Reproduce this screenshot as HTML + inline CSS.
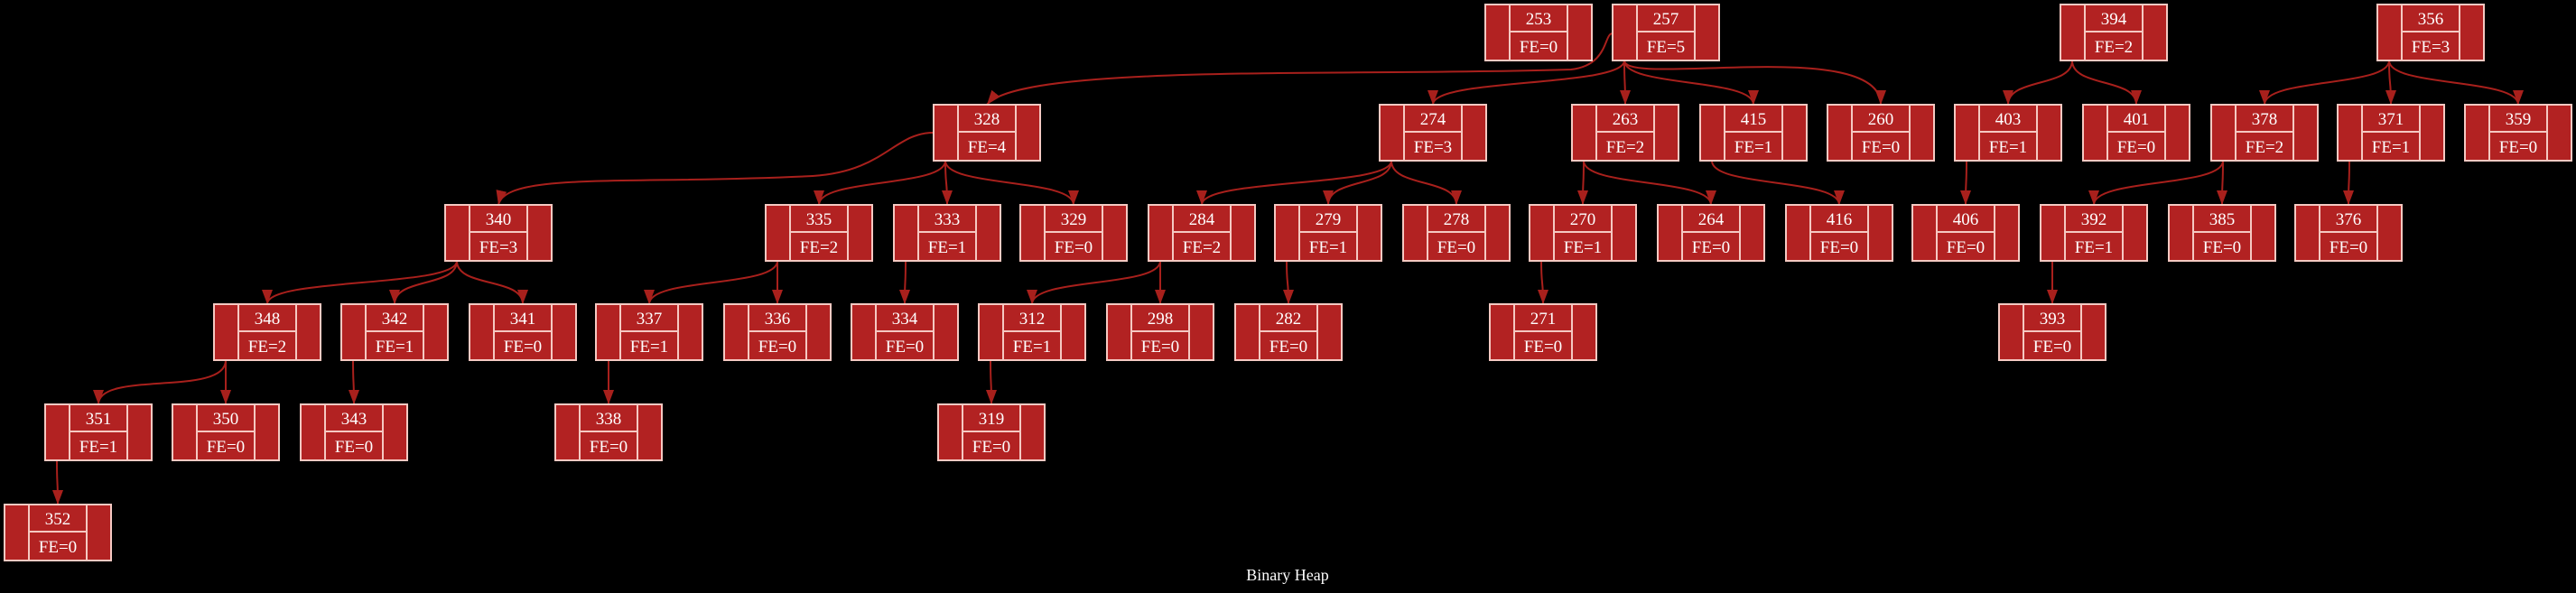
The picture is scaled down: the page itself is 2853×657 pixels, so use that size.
<!DOCTYPE html>
<html><head><meta charset="utf-8"><style>
html,body{margin:0;padding:0;background:#000;}
svg{display:block;}
text{font-family:"Liberation Serif",serif;font-size:19px;fill:#fff;text-anchor:middle;}
.e{fill:none;stroke:#a8201c;stroke-width:2;}
</style></head><body>
<svg width="2853" height="657" viewBox="0 0 2853 657" xmlns="http://www.w3.org/2000/svg" xmlns:xlink="http://www.w3.org/1999/xlink">
<defs>
<marker id="a" markerUnits="userSpaceOnUse" markerWidth="16" markerHeight="12" refX="16" refY="6" orient="auto">
<path d="M0,0 L16,6 L0,12 z" fill="#a8201c"/></marker>
<g id="b"><rect x="0" y="0" width="118" height="62" fill="#b22222" stroke="#f5c9c2" stroke-width="2"/><line x1="27" y1="0" x2="27" y2="62" stroke="#f5c9c2" stroke-width="2"/><line x1="91" y1="0" x2="91" y2="62" stroke="#f5c9c2" stroke-width="2"/><line x1="27" y1="30" x2="91" y2="30" stroke="#f5c9c2" stroke-width="2"/></g>
</defs>
<g>
<path class="e" marker-end="url(#a)" d="M1786,37 C1776,37 1782,72 1740,77 C1500,85 1130,70 1093,116"/>
<path class="e" marker-end="url(#a)" d="M1799,67 C1799,97 1587,86 1587,116"/>
<path class="e" marker-end="url(#a)" d="M1799,67 C1799,97 1800,86 1800,116"/>
<path class="e" marker-end="url(#a)" d="M1799,67 C1799,97 1942,86 1942,116"/>
<path class="e" marker-end="url(#a)" d="M1799,67 C1799,97 2083,40 2083,116"/>
<path class="e" marker-end="url(#a)" d="M2295,67 C2295,97 2224,86 2224,116"/>
<path class="e" marker-end="url(#a)" d="M2295,67 C2295,97 2366,86 2366,116"/>
<path class="e" marker-end="url(#a)" d="M2646,67 C2646,97 2508,86 2508,116"/>
<path class="e" marker-end="url(#a)" d="M2646,67 C2646,97 2648,86 2648,116"/>
<path class="e" marker-end="url(#a)" d="M2646,67 C2646,97 2789,86 2789,116"/>
<path class="e" marker-end="url(#a)" d="M1034,147 C990,147 980,190 900,195 C700,205 560,190 552,227"/>
<path class="e" marker-end="url(#a)" d="M1047,178 C1047,208 907,197 907,227"/>
<path class="e" marker-end="url(#a)" d="M1047,178 C1047,208 1049,197 1049,227"/>
<path class="e" marker-end="url(#a)" d="M1047,178 C1047,208 1189,197 1189,227"/>
<path class="e" marker-end="url(#a)" d="M1541,178 C1541,208 1331,197 1331,227"/>
<path class="e" marker-end="url(#a)" d="M1541,178 C1541,208 1471,197 1471,227"/>
<path class="e" marker-end="url(#a)" d="M1541,178 C1541,208 1613,197 1613,227"/>
<path class="e" marker-end="url(#a)" d="M1754,178 C1754,208 1753,197 1753,227"/>
<path class="e" marker-end="url(#a)" d="M1754,178 C1754,208 1895,197 1895,227"/>
<path class="e" marker-end="url(#a)" d="M1896,178 C1896,208 2037,197 2037,227"/>
<path class="e" marker-end="url(#a)" d="M2178,178 C2178,208 2177,197 2177,227"/>
<path class="e" marker-end="url(#a)" d="M2462,178 C2462,208 2319,197 2319,227"/>
<path class="e" marker-end="url(#a)" d="M2462,178 C2462,208 2461,197 2461,227"/>
<path class="e" marker-end="url(#a)" d="M2602,178 C2602,208 2601,197 2601,227"/>
<path class="e" marker-end="url(#a)" d="M506,289 C506,319 296,307 296,337"/>
<path class="e" marker-end="url(#a)" d="M506,289 C506,319 437,307 437,337"/>
<path class="e" marker-end="url(#a)" d="M506,289 C506,319 579,307 579,337"/>
<path class="e" marker-end="url(#a)" d="M861,289 C861,319 719,307 719,337"/>
<path class="e" marker-end="url(#a)" d="M861,289 C861,319 861,307 861,337"/>
<path class="e" marker-end="url(#a)" d="M1003,289 C1003,319 1002,307 1002,337"/>
<path class="e" marker-end="url(#a)" d="M1285,289 C1285,319 1143,307 1143,337"/>
<path class="e" marker-end="url(#a)" d="M1285,289 C1285,319 1285,307 1285,337"/>
<path class="e" marker-end="url(#a)" d="M1425,289 C1425,319 1427,307 1427,337"/>
<path class="e" marker-end="url(#a)" d="M1707,289 C1707,319 1709,307 1709,337"/>
<path class="e" marker-end="url(#a)" d="M2273,289 C2273,319 2273,307 2273,337"/>
<path class="e" marker-end="url(#a)" d="M250,399 C250,440 109,410 109,448"/>
<path class="e" marker-end="url(#a)" d="M250,399 C250,429 250,418 250,448"/>
<path class="e" marker-end="url(#a)" d="M391,399 C391,429 392,418 392,448"/>
<path class="e" marker-end="url(#a)" d="M674,399 L674,448"/>
<path class="e" marker-end="url(#a)" d="M1097,399 C1097,429 1098,418 1098,448"/>
<path class="e" marker-end="url(#a)" d="M63,510 C63,540 64,529 64,559"/>
</g>
<g>
<use href="#b" xlink:href="#b" x="1645" y="5"/><text x="1704" y="27">253</text><text x="1704" y="58">FE=0</text>
<use href="#b" xlink:href="#b" x="1786" y="5"/><text x="1845" y="27">257</text><text x="1845" y="58">FE=5</text>
<use href="#b" xlink:href="#b" x="2282" y="5"/><text x="2341" y="27">394</text><text x="2341" y="58">FE=2</text>
<use href="#b" xlink:href="#b" x="2633" y="5"/><text x="2692" y="27">356</text><text x="2692" y="58">FE=3</text>

<use href="#b" xlink:href="#b" x="1034" y="116"/><text x="1093" y="138">328</text><text x="1093" y="169">FE=4</text>
<use href="#b" xlink:href="#b" x="1528" y="116"/><text x="1587" y="138">274</text><text x="1587" y="169">FE=3</text>
<use href="#b" xlink:href="#b" x="1741" y="116"/><text x="1800" y="138">263</text><text x="1800" y="169">FE=2</text>
<use href="#b" xlink:href="#b" x="1883" y="116"/><text x="1942" y="138">415</text><text x="1942" y="169">FE=1</text>
<use href="#b" xlink:href="#b" x="2024" y="116"/><text x="2083" y="138">260</text><text x="2083" y="169">FE=0</text>
<use href="#b" xlink:href="#b" x="2165" y="116"/><text x="2224" y="138">403</text><text x="2224" y="169">FE=1</text>
<use href="#b" xlink:href="#b" x="2307" y="116"/><text x="2366" y="138">401</text><text x="2366" y="169">FE=0</text>
<use href="#b" xlink:href="#b" x="2449" y="116"/><text x="2508" y="138">378</text><text x="2508" y="169">FE=2</text>
<use href="#b" xlink:href="#b" x="2589" y="116"/><text x="2648" y="138">371</text><text x="2648" y="169">FE=1</text>
<use href="#b" xlink:href="#b" x="2730" y="116"/><text x="2789" y="138">359</text><text x="2789" y="169">FE=0</text>

<use href="#b" xlink:href="#b" x="493" y="227"/><text x="552" y="249">340</text><text x="552" y="280">FE=3</text>
<use href="#b" xlink:href="#b" x="848" y="227"/><text x="907" y="249">335</text><text x="907" y="280">FE=2</text>
<use href="#b" xlink:href="#b" x="990" y="227"/><text x="1049" y="249">333</text><text x="1049" y="280">FE=1</text>
<use href="#b" xlink:href="#b" x="1130" y="227"/><text x="1189" y="249">329</text><text x="1189" y="280">FE=0</text>
<use href="#b" xlink:href="#b" x="1272" y="227"/><text x="1331" y="249">284</text><text x="1331" y="280">FE=2</text>
<use href="#b" xlink:href="#b" x="1412" y="227"/><text x="1471" y="249">279</text><text x="1471" y="280">FE=1</text>
<use href="#b" xlink:href="#b" x="1554" y="227"/><text x="1613" y="249">278</text><text x="1613" y="280">FE=0</text>
<use href="#b" xlink:href="#b" x="1694" y="227"/><text x="1753" y="249">270</text><text x="1753" y="280">FE=1</text>
<use href="#b" xlink:href="#b" x="1836" y="227"/><text x="1895" y="249">264</text><text x="1895" y="280">FE=0</text>
<use href="#b" xlink:href="#b" x="1978" y="227"/><text x="2037" y="249">416</text><text x="2037" y="280">FE=0</text>
<use href="#b" xlink:href="#b" x="2118" y="227"/><text x="2177" y="249">406</text><text x="2177" y="280">FE=0</text>
<use href="#b" xlink:href="#b" x="2260" y="227"/><text x="2319" y="249">392</text><text x="2319" y="280">FE=1</text>
<use href="#b" xlink:href="#b" x="2402" y="227"/><text x="2461" y="249">385</text><text x="2461" y="280">FE=0</text>
<use href="#b" xlink:href="#b" x="2542" y="227"/><text x="2601" y="249">376</text><text x="2601" y="280">FE=0</text>

<use href="#b" xlink:href="#b" x="237" y="337"/><text x="296" y="359">348</text><text x="296" y="390">FE=2</text>
<use href="#b" xlink:href="#b" x="378" y="337"/><text x="437" y="359">342</text><text x="437" y="390">FE=1</text>
<use href="#b" xlink:href="#b" x="520" y="337"/><text x="579" y="359">341</text><text x="579" y="390">FE=0</text>
<use href="#b" xlink:href="#b" x="660" y="337"/><text x="719" y="359">337</text><text x="719" y="390">FE=1</text>
<use href="#b" xlink:href="#b" x="802" y="337"/><text x="861" y="359">336</text><text x="861" y="390">FE=0</text>
<use href="#b" xlink:href="#b" x="943" y="337"/><text x="1002" y="359">334</text><text x="1002" y="390">FE=0</text>
<use href="#b" xlink:href="#b" x="1084" y="337"/><text x="1143" y="359">312</text><text x="1143" y="390">FE=1</text>
<use href="#b" xlink:href="#b" x="1226" y="337"/><text x="1285" y="359">298</text><text x="1285" y="390">FE=0</text>
<use href="#b" xlink:href="#b" x="1368" y="337"/><text x="1427" y="359">282</text><text x="1427" y="390">FE=0</text>
<use href="#b" xlink:href="#b" x="1650" y="337"/><text x="1709" y="359">271</text><text x="1709" y="390">FE=0</text>
<use href="#b" xlink:href="#b" x="2214" y="337"/><text x="2273" y="359">393</text><text x="2273" y="390">FE=0</text>

<use href="#b" xlink:href="#b" x="50" y="448"/><text x="109" y="470">351</text><text x="109" y="501">FE=1</text>
<use href="#b" xlink:href="#b" x="191" y="448"/><text x="250" y="470">350</text><text x="250" y="501">FE=0</text>
<use href="#b" xlink:href="#b" x="333" y="448"/><text x="392" y="470">343</text><text x="392" y="501">FE=0</text>
<use href="#b" xlink:href="#b" x="615" y="448"/><text x="674" y="470">338</text><text x="674" y="501">FE=0</text>
<use href="#b" xlink:href="#b" x="1039" y="448"/><text x="1098" y="470">319</text><text x="1098" y="501">FE=0</text>

<use href="#b" xlink:href="#b" x="5" y="559"/><text x="64" y="581">352</text><text x="64" y="612">FE=0</text>
</g>
<text x="1426" y="643" style="font-size:18px">Binary Heap</text>
</svg>
</body></html>
